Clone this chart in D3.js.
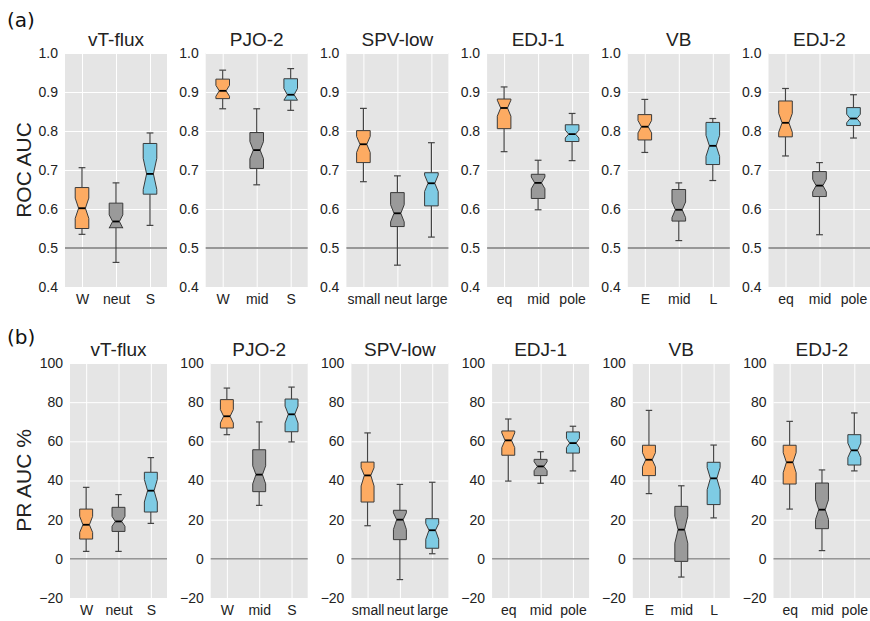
<!DOCTYPE html>
<html>
<head>
<meta charset="utf-8">
<script src="https://cdn.jsdelivr.net/npm/d3@7"></script>
<style>
  body { margin: 0; background: #fff; }
  svg { font-family: "Liberation Sans", Arial, sans-serif; }
</style>
</head>
<body>
<svg></svg>
<script>
// DATA ////////////////////////////////////////////////////////////////////////
const titles = ['vT-flux', 'PJO-2', 'SPV-low', 'EDJ-1', 'VB', 'EDJ-2'];
const categories = [
  ['W', 'neut', 'S'],
  ['W', 'mid', 'S'],
  ['small', 'neut', 'large'],
  ['eq', 'mid', 'pole'],
  ['E', 'mid', 'L'],
  ['eq', 'mid', 'pole']
];
const rocTicks = [0.4, 0.5, 0.6, 0.7, 0.8, 0.9, 1.0];
const prTicks = [-20, 0, 20, 40, 60, 80, 100];

// ROC AUC box stats, one row per panel, one value per category
const rocWhiskerLow = [[0.535, 0.463, 0.558], [0.857, 0.662, 0.853], [0.670, 0.456, 0.528],
  [0.747, 0.598, 0.724], [0.745, 0.519, 0.673], [0.736, 0.534, 0.782]];
const rocQ1 = [[0.550, 0.552, 0.638], [0.883, 0.704, 0.879], [0.719, 0.555, 0.608],
  [0.806, 0.627, 0.773], [0.777, 0.569, 0.714], [0.785, 0.632, 0.814]];
const rocNotchLow = [[0.576, 0.551, 0.650], [0.889, 0.729, 0.879], [0.745, 0.567, 0.645],
  [0.838, 0.652, 0.782], [0.795, 0.578, 0.735], [0.797, 0.644, 0.821]];
const rocMedian = [[0.602, 0.568, 0.690], [0.903, 0.751, 0.893], [0.766, 0.589, 0.666],
  [0.859, 0.667, 0.792], [0.811, 0.598, 0.762], [0.821, 0.660, 0.832]];
const rocNotchHigh = [[0.628, 0.585, 0.730], [0.917, 0.773, 0.909], [0.786, 0.611, 0.687],
  [0.879, 0.682, 0.802], [0.827, 0.618, 0.789], [0.845, 0.676, 0.843]];
const rocQ3 = [[0.655, 0.615, 0.768], [0.933, 0.796, 0.934], [0.801, 0.642, 0.693],
  [0.882, 0.689, 0.816], [0.842, 0.650, 0.822], [0.877, 0.696, 0.860]];
const rocWhiskerHigh = [[0.706, 0.667, 0.795], [0.956, 0.857, 0.960], [0.858, 0.685, 0.770],
  [0.913, 0.725, 0.845], [0.881, 0.667, 0.832], [0.909, 0.719, 0.893]];

// PR AUC % box stats
const prWhiskerLow = [[3.8, 3.8, 18.1], [63.4, 27.3, 59.7], [16.9, -10.6, 2.6],
  [39.7, 38.6, 44.9], [33.3, -9.3, 20.9], [25.4, 4.2, 44.9]];
const prQ1 = [[10.1, 14.0, 23.9], [66.8, 34.3, 64.9], [29.0, 9.8, 5.4],
  [52.9, 42.5, 54.0], [42.5, -1.3, 27.7], [38.2, 15.4, 47.9]];
const prNotchLow = [[13.5, 16.6, 29.0], [69.4, 38.3, 69.3], [37.2, 15.0, 10.0],
  [56.8, 45.0, 56.8], [47.0, 8.0, 35.3], [44.0, 20.1, 51.7]];
const prMedian = [[17.4, 19.1, 34.8], [72.8, 43.0, 73.8], [42.6, 20.0, 14.6],
  [60.5, 47.2, 59.1], [50.6, 14.9, 41.1], [49.3, 25.1, 55.4]];
const prNotchHigh = [[21.7, 21.7, 40.5], [76.2, 47.5, 78.0], [46.5, 23.5, 18.0],
  [64.3, 49.6, 61.5], [54.2, 21.8, 46.6], [54.2, 30.1, 59.1]];
const prQ3 = [[25.4, 26.3, 44.2], [81.3, 55.7, 81.6], [49.4, 24.8, 20.5],
  [65.3, 50.8, 64.8], [58.0, 26.8, 49.3], [58.0, 38.7, 63.4]];
const prWhiskerHigh = [[36.5, 32.8, 51.7], [87.2, 69.9, 87.7], [64.3, 38.0, 39.1],
  [71.4, 54.7, 67.7], [75.8, 37.3, 58.1], [70.2, 45.4, 74.5]];

// SET PARAMETERS //////////////////////////////////////////////////////////////
const svg = d3.select('svg').attr('width', 870).attr('height', 621);
const colors = ['#fdab62', '#9a9a9a', '#7ecbe4'];
const panelStep = 140.7;
const panelW = 102;
const boxWidth = 0.4;

const rows = [
  {
    label: '(a)', labelY: 27, ylabel: 'ROC AUC', top: 53, height: 234, left: 65,
    domain: [0.4, 1.0], ticks: rocTicks, fmt: d3.format('.1f'), ref: 0.5,
    refColor: '#979797', refWidth: 1.8,
    stats: [rocWhiskerLow, rocQ1, rocNotchLow, rocMedian, rocNotchHigh, rocQ3, rocWhiskerHigh]
  },
  {
    label: '(b)', labelY: 344, ylabel: 'PR AUC %', top: 363, height: 235, left: 70,
    domain: [-20, 100], ticks: prTicks, fmt: d3.format('d'), ref: 0,
    refColor: '#7a7a7a', refWidth: 1.2,
    stats: [prWhiskerLow, prQ1, prNotchLow, prMedian, prNotchHigh, prQ3, prWhiskerHigh]
  }
];

// DRAW ///////////////////////////////////////////////////////////////////////
rows.forEach(row => {
  // panel letter
  svg.append('text')
    .attr('x', 7)
    .attr('y', row.labelY)
    .attr('font-family', 'DejaVu Sans, sans-serif')
    .attr('font-size', 20)
    .attr('fill', '#111')
    .text(row.label);

  // y label
  svg.append('text')
    .attr('transform', `translate(31,${row.top + row.height / 2}) rotate(-90)`)
    .attr('text-anchor', 'middle')
    .attr('font-size', 21)
    .attr('fill', '#222')
    .text(row.ylabel);

  titles.forEach((title, p) => {
    const right = 65 + p * panelStep + panelW;
    const left = row.left + p * panelStep;
    const w = right - left;
    const h = row.height;

    const g = svg.append('g')
      .attr('transform', `translate(${left},${row.top})`);

    const x = d3.scaleLinear().domain([0.5, 3.5]).range([0, w]);
    const y = d3.scaleLinear().domain(row.domain).range([h, 0]);

    g.append('rect')
      .attr('width', w)
      .attr('height', h)
      .attr('fill', '#e5e5e5');

    // y axis + horizontal grid
    const yAxis = g.append('g')
      .call(d3.axisLeft(y).tickValues(row.ticks).tickFormat(row.fmt).tickSize(-w).tickPadding(7));
    yAxis.select('.domain').remove();
    yAxis.selectAll('line').attr('stroke', '#fff').attr('stroke-width', 1);
    yAxis.selectAll('text')
      .attr('font-size', 14)
      .attr('font-family', 'Liberation Sans, Arial, sans-serif')
      .attr('fill', '#222');

    // x axis + vertical grid
    const xAxis = g.append('g')
      .attr('transform', `translate(0,${h})`)
      .call(d3.axisBottom(x).tickValues([1, 2, 3]).tickFormat((d, i) => categories[p][i]).tickSize(-h).tickPadding(7));
    xAxis.select('.domain').remove();
    xAxis.selectAll('line').attr('stroke', '#fff').attr('stroke-width', 1);
    xAxis.selectAll('text')
      .attr('font-size', 14)
      .attr('font-family', 'Liberation Sans, Arial, sans-serif')
      .attr('fill', '#222');

    // reference line
    g.append('line')
      .attr('x1', 0)
      .attr('x2', w)
      .attr('y1', y(row.ref))
      .attr('y2', y(row.ref))
      .attr('stroke', row.refColor)
      .attr('stroke-width', row.refWidth);

    // title
    svg.append('text')
      .attr('x', left + w / 2)
      .attr('y', row.top - 7)
      .attr('text-anchor', 'middle')
      .attr('font-size', 19)
      .attr('fill', '#222')
      .text(title);

    // boxes
    const boxes = [0, 1, 2].map(i => {
      const s = row.stats.map(a => a[p][i]);
      return { pos: i + 1, lo: s[0], q1: s[1], clo: s[2], med: s[3], chi: s[4], q3: s[5], hi: s[6], color: colors[i] };
    });

    const line = d3.line().x(d => x(d[0])).y(d => y(d[1]));

    boxes.forEach(b => {
      const L = b.pos - boxWidth / 2, R = b.pos + boxWidth / 2;
      const cL = b.pos - boxWidth / 4, cR = b.pos + boxWidth / 4;

      // whiskers
      [[b.q1, b.lo], [b.q3, b.hi]].forEach(([a, c]) => {
        g.append('path')
          .attr('d', line([[b.pos, a], [b.pos, c]]))
          .attr('stroke', '#444')
          .attr('stroke-width', 1.2);
        g.append('path')
          .attr('d', line([[cL, c], [cR, c]]))
          .attr('stroke', '#444')
          .attr('stroke-width', 1.2);
      });

      // notched box
      g.append('path')
        .attr('d', line([[L, b.q1], [R, b.q1], [R, b.clo], [cR, b.med], [R, b.chi], [R, b.q3],
          [L, b.q3], [L, b.chi], [cL, b.med], [L, b.clo], [L, b.q1]]))
        .attr('fill', b.color)
        .attr('stroke', '#3a3a3a')
        .attr('stroke-width', 1);

      // median
      g.append('path')
        .attr('d', line([[cL, b.med], [cR, b.med]]))
        .attr('stroke', '#000')
        .attr('stroke-width', 1.8);
    });
  });
});
</script>
</body>
</html>
